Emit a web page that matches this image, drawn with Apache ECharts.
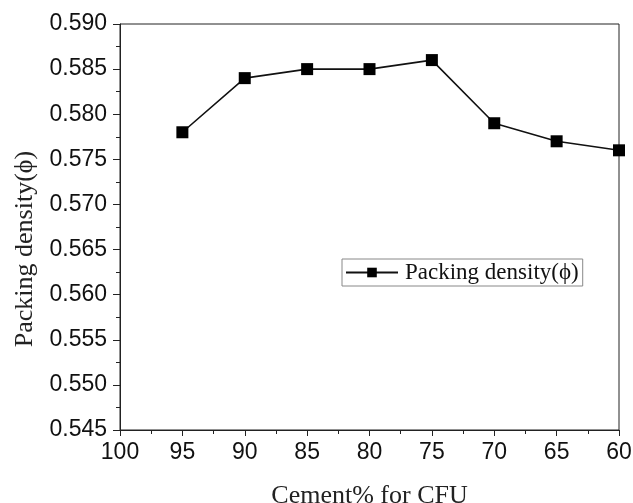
<!DOCTYPE html>
<html><head><meta charset="utf-8">
<script src="https://cdn.jsdelivr.net/npm/echarts@6/dist/echarts.min.js"></script>
<style>html,body{margin:0;padding:0;background:#fff}#c{width:633px;height:503px}</style>
</head><body><div id="c"></div>
<script>
const cementPct = [95, 90, 85, 80, 75, 70, 65, 60];
const packingDensity = [0.578, 0.584, 0.585, 0.585, 0.586, 0.579, 0.577, 0.576];
const seriesName = 'Packing density(\u03D5)';
const xTitle = 'Cement% for CFU';
const yTitle = 'Packing density(\u03D5)';

const chart = echarts.init(document.getElementById('c'));
const axisColor = '#222';
chart.setOption({
  animation: false,
  backgroundColor: '#fff',
  grid: { left: 120, right: 14, top: 24, bottom: 73, show: true, borderColor: axisColor, borderWidth: 1,
    containLabel: false, outerBoundsMode: 'none' },
  legend: {
    left: 342, top: 259,
    data: [seriesName],
    itemWidth: 52, itemHeight: 12, itemGap: 4,
    borderColor: '#888', borderWidth: 1, padding: [2, 4, 2, 3],
    textStyle: { fontFamily: 'Liberation Serif', fontSize: 23, color: '#111', padding: [0, 0, 0, 2] }
  },
  xAxis: {
    type: 'value', inverse: true, min: 60, max: 100, interval: 5,
    name: xTitle, nameLocation: 'middle', nameGap: 53,
    nameTextStyle: { fontFamily: 'Liberation Serif', fontSize: 26, color: '#222' },
    axisLine: { show: true, onZero: false, lineStyle: { color: axisColor, width: 1 } },
    axisTick: { show: true, inside: false, length: 6, lineStyle: { color: axisColor } },
    minorTick: { show: true, splitNumber: 2, length: 4, lineStyle: { color: axisColor } },
    splitLine: { show: false },
    axisLabel: { fontFamily: 'Liberation Sans', fontSize: 23, color: '#111', margin: 11 }
  },
  yAxis: {
    type: 'value', min: 0.545, max: 0.590, interval: 0.005,
    name: yTitle, nameLocation: 'middle', nameGap: 82, nameRotate: 90,
    nameTextStyle: { fontFamily: 'Liberation Serif', fontSize: 26, color: '#222', padding: [0, 44, 0, 0] },
    axisLine: { show: true, onZero: false, lineStyle: { color: axisColor, width: 1 } },
    axisTick: { show: true, inside: false, length: 7, lineStyle: { color: axisColor } },
    minorTick: { show: true, splitNumber: 2, length: 4, lineStyle: { color: axisColor } },
    splitLine: { show: false },
    axisLabel: { fontFamily: 'Liberation Sans', fontSize: 23, color: '#111', margin: 13,
      formatter: v => v.toFixed(3) }
  },
  series: [{
    name: seriesName, type: 'line',
    data: cementPct.map((c, i) => [c, packingDensity[i]]),
    symbol: 'rect', symbolSize: 12,
    lineStyle: { color: '#111', width: 1.6 },
    itemStyle: { color: '#000' }
  }]
});
</script></body></html>
